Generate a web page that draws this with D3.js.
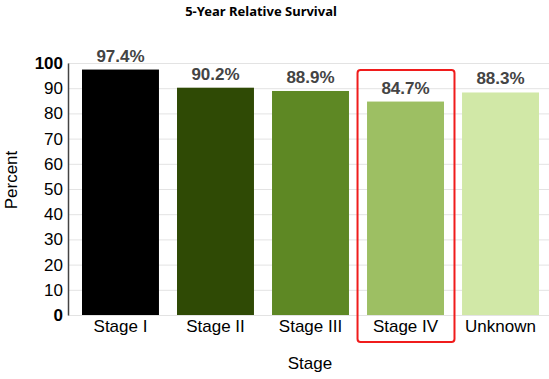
<!DOCTYPE html>
<html>
<head>
<meta charset="utf-8">
<script src="https://cdn.jsdelivr.net/npm/d3@7"></script>
<style>
  body { margin: 0; background: #fff; }
  text { font-family: "Liberation Sans", Arial, sans-serif; }
</style>
</head>
<body>
<div id="chart"></div>
<script>
var stages = ["Stage I", "Stage II", "Stage III", "Stage IV", "Unknown"];
var survival = [97.4, 90.2, 88.9, 84.7, 88.3];
var barColors = ["#000000", "#2f4a05", "#5e8824", "#9dbf63", "#d1e8a7"];
var yTicks = [0, 10, 20, 30, 40, 50, 60, 70, 80, 90, 100];
var highlighted = "Stage IV";

var width = 549, height = 379;
var margin = {top: 63, left: 68, bottom: 64};

var svg = d3.select("#chart")
  .append("svg")
    .attr("width", width)
    .attr("height", height);

var x = d3.scaleBand()
  .domain(stages)
  .range([72.5, 548.5])
  .paddingInner(0.19)
  .paddingOuter(0.1);

var y = d3.scaleLinear()
  .domain([0, 100])
  .range([height - margin.bottom, margin.top]);

// grid lines
svg.append("g")
  .selectAll("line")
  .data(yTicks)
  .enter().append("line")
    .attr("x1", margin.left)
    .attr("x2", width)
    .attr("y1", function(d) { return y(d) + 0.5; })
    .attr("y2", function(d) { return y(d) + 0.5; })
    .attr("stroke", "#e3e3e3")
    .attr("stroke-width", 1);

// bars
var data = stages.map(function(s, i) { return {stage: s, value: survival[i], color: barColors[i]}; });

svg.append("g")
  .selectAll("rect")
  .data(data)
  .enter().append("rect")
    .attr("x", function(d) { return x(d.stage); })
    .attr("width", x.bandwidth())
    .attr("y", function(d) { return y(d.value); })
    .attr("height", function(d) { return y(0) - y(d.value); })
    .attr("fill", function(d) { return d.color; });

// value labels
svg.append("g")
  .selectAll("text")
  .data(data)
  .enter().append("text")
    .attr("x", function(d) { return x(d.stage) + x.bandwidth() / 2; })
    .attr("y", function(d) { return y(d.value) - 8; })
    .attr("text-anchor", "middle")
    .style("font-size", "17px")
    .style("font-weight", "bold")
    .style("fill", "#444")
    .text(function(d) { return d.value.toFixed(1) + "%"; });

// y axis
var yAxis = svg.append("g")
  .attr("transform", "translate(" + margin.left + ",0)")
  .call(d3.axisLeft(y).tickValues(yTicks).tickSize(0).tickPadding(5));
yAxis.select(".domain").attr("stroke", "#444").attr("stroke-width", 1.5);
yAxis.selectAll("text")
  .style("font-size", "17px")
  .style("fill", "#000")
  .style("font-family", "Liberation Sans, Arial, sans-serif")
  .style("font-weight", function(d) { return (d === 0 || d === 100) ? "bold" : "normal"; });

// x axis
var xAxis = svg.append("g")
  .attr("transform", "translate(0," + y(0) + ")")
  .call(d3.axisBottom(x).tickSize(0).tickPadding(5));
xAxis.select(".domain").remove();
xAxis.selectAll("text")
  .style("font-size", "17px")
  .style("fill", "#000")
  .style("font-family", "Liberation Sans, Arial, sans-serif");

// highlight box
svg.append("rect")
  .attr("x", x(highlighted) - 9.5)
  .attr("y", 70)
  .attr("width", x.bandwidth() + 20)
  .attr("height", 272)
  .attr("rx", 3)
  .attr("fill", "none")
  .attr("stroke", "#f01c1c")
  .attr("stroke-width", 2);

// title
svg.append("text")
  .attr("x", 261)
  .attr("y", 16)
  .attr("text-anchor", "middle")
  .style("font-family", "Noto Sans, sans-serif")
  .style("font-size", "13px")
  .style("font-weight", "bold")
  .text("5-Year Relative Survival");

// axis titles
svg.append("text")
  .attr("transform", "rotate(-90)")
  .attr("x", -180)
  .attr("y", 17)
  .attr("text-anchor", "middle")
  .style("font-size", "17px")
  .text("Percent");

svg.append("text")
  .attr("x", 310)
  .attr("y", 369)
  .attr("text-anchor", "middle")
  .style("font-size", "17px")
  .text("Stage");
</script>
</body>
</html>
